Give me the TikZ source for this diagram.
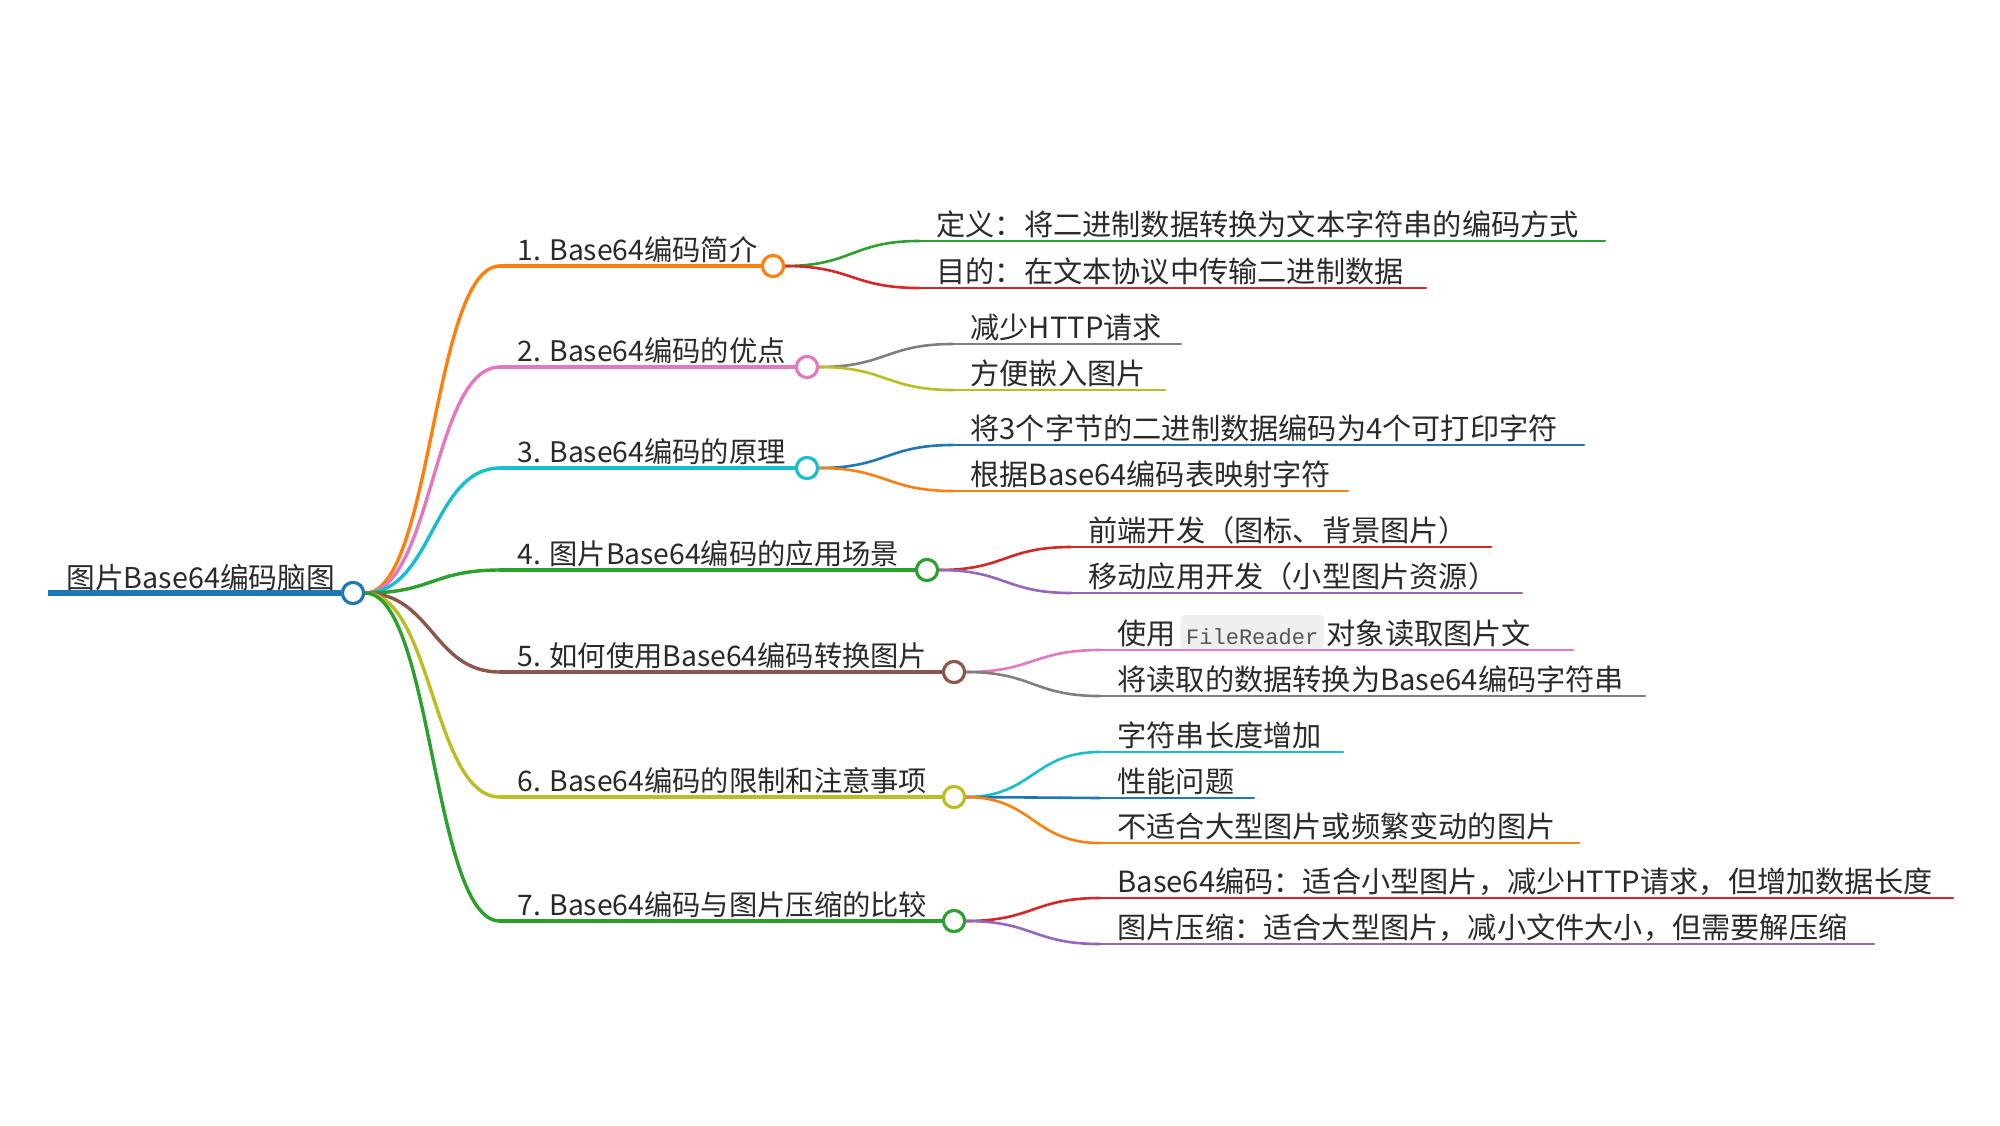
\documentclass[tikz,border=0pt]{standalone}
\usepackage{fontspec}
\setmainfont{Noto Sans CJK SC}
\newfontfamily\codefont{Liberation Mono}
\usetikzlibrary{calc}
\definecolor{mmorange}{HTML}{FF7F0E}
\definecolor{mmpink}{HTML}{E377C2}
\definecolor{mmcyan}{HTML}{17BECF}
\definecolor{mmgreen}{HTML}{2CA02C}
\definecolor{mmbrown}{HTML}{8C564B}
\definecolor{mmolive}{HTML}{BCBD22}
\definecolor{mmred}{HTML}{D62728}
\definecolor{mmpurple}{HTML}{9467BD}
\definecolor{mmgray}{HTML}{7F7F7F}
\definecolor{mmblue}{HTML}{1F77B4}
\definecolor{txtcol}{HTML}{2A2A2A}
\definecolor{codebg}{HTML}{EFEFEF}
\definecolor{codetxt}{HTML}{555555}
\tikzset{
  lzero/.style={line width=3pt},
  lone/.style={line width=1.7pt, line cap=round},
  ltwo/.style={line width=1.3pt, line cap=round},
  dot/.style={circle, draw, fill=white, line width=1.5pt, minimum size=10.5pt, inner sep=0pt},
  txt/.style={anchor=base west, inner sep=0pt, font=\fontsize{14.6pt}{16pt}\selectfont, text=txtcol},
  txtone/.style={txt, font=\fontsize{14.15pt}{16pt}\selectfont},
  txtroot/.style={txt, font=\fontsize{14.35pt}{16pt}\selectfont},
  codebox/.style={anchor=base west, fill=codebg, rounded corners=2pt, inner xsep=2.8pt, inner ysep=0pt,
    text height=14.5pt, text depth=2.5pt, font=\codefont\fontsize{11pt}{12pt}\selectfont, text=codetxt}
}
\newcommand\mmlink[3]{\draw[#1] let \p1=(#2), \p2=(#3) in (#2) .. controls ({(\x1+\x2)/2},\y1) and ({(\x1+\x2)/2},\y2) .. (#3);}
\begin{document}
\begin{tikzpicture}[x=0.5pt,y=-0.5pt]
\useasboundingbox (0,0) rectangle (2000,1125);
\fill[white] (0,0) rectangle (2000,1125);

% root
\coordinate (r0) at (48,593);
\node[dot, draw=mmblue] (root) at (353,593) {};
\draw[lzero, mmblue] (r0) -- (root.west);
\node[txtroot] (troot) at (66,588) {图片Base64编码脑图};

% level 1 anchors
\coordinate (s1) at (500,266);
\coordinate (s2) at (500,367);
\coordinate (s3) at (500,468);
\coordinate (s4) at (500,570);
\coordinate (s5) at (500,672);
\coordinate (s6) at (500,797);
\coordinate (s7) at (500,921);
\node[dot, draw=mmorange] (c1) at (773,266) {};
\node[dot, draw=mmpink] (c2) at (807,367) {};
\node[dot, draw=mmcyan] (c3) at (807,468) {};
\node[dot, draw=mmgreen] (c4) at (927,570) {};
\node[dot, draw=mmbrown] (c5) at (954,672) {};
\node[dot, draw=mmolive] (c6) at (954,797) {};
\node[dot, draw=mmgreen] (c7) at (954,921) {};

\mmlink{lone, mmorange}{root.east}{s1}
\mmlink{lone, mmpink}{root.east}{s2}
\mmlink{lone, mmcyan}{root.east}{s3}
\mmlink{lone, mmgreen}{root.east}{s4}
\mmlink{lone, mmbrown}{root.east}{s5}
\mmlink{lone, mmolive}{root.east}{s6}
\mmlink{lone, mmgreen}{root.east}{s7}
\draw[lone, mmorange] (s1) -- (c1.west);
\draw[lone, mmpink] (s2) -- (c2.west);
\draw[lone, mmcyan] (s3) -- (c3.west);
\draw[lone, mmgreen] (s4) -- (c4.west);
\draw[lone, mmbrown] (s5) -- (c5.west);
\draw[lone, mmolive] (s6) -- (c6.west);
\draw[lone, mmgreen] (s7) -- (c7.west);

% level 2 anchors: curve ends (e) and line ends (f)
\coordinate (e1a) at (919,241);  \coordinate (f1a) at (1605,241);
\coordinate (e1b) at (919,288);  \coordinate (f1b) at (1426,288);
\coordinate (e2a) at (953,344);  \coordinate (f2a) at (1181,344);
\coordinate (e2b) at (953,390);  \coordinate (f2b) at (1165,390);
\coordinate (e3a) at (953,445);  \coordinate (f3a) at (1584,445);
\coordinate (e3b) at (953,491);  \coordinate (f3b) at (1348,491);
\coordinate (e4a) at (1071,547); \coordinate (f4a) at (1491,547);
\coordinate (e4b) at (1071,593); \coordinate (f4b) at (1522,593);
\coordinate (e5a) at (1100,650); \coordinate (f5a) at (1573,650);
\coordinate (e5b) at (1100,696); \coordinate (f5b) at (1645,696);
\coordinate (e6a) at (1100,752); \coordinate (f6a) at (1343,752);
\coordinate (e6b) at (1100,798); \coordinate (f6b) at (1254,798);
\coordinate (e6c) at (1100,843); \coordinate (f6c) at (1579,843);
\coordinate (e7a) at (1100,898); \coordinate (f7a) at (1953,898);
\coordinate (e7b) at (1100,944); \coordinate (f7b) at (1874,944);

\mmlink{ltwo, mmgreen}{c1.east}{e1a}  \draw[ltwo, mmgreen] (e1a) -- (f1a);
\mmlink{ltwo, mmred}{c1.east}{e1b}    \draw[ltwo, mmred] (e1b) -- (f1b);
\mmlink{ltwo, mmgray}{c2.east}{e2a}   \draw[ltwo, mmgray] (e2a) -- (f2a);
\mmlink{ltwo, mmolive}{c2.east}{e2b}  \draw[ltwo, mmolive] (e2b) -- (f2b);
\mmlink{ltwo, mmblue}{c3.east}{e3a}   \draw[ltwo, mmblue] (e3a) -- (f3a);
\mmlink{ltwo, mmorange}{c3.east}{e3b} \draw[ltwo, mmorange] (e3b) -- (f3b);
\mmlink{ltwo, mmred}{c4.east}{e4a}    \draw[ltwo, mmred] (e4a) -- (f4a);
\mmlink{ltwo, mmpurple}{c4.east}{e4b} \draw[ltwo, mmpurple] (e4b) -- (f4b);
\mmlink{ltwo, mmpink}{c5.east}{e5a}   \draw[ltwo, mmpink] (e5a) -- (f5a);
\mmlink{ltwo, mmgray}{c5.east}{e5b}   \draw[ltwo, mmgray] (e5b) -- (f5b);
\mmlink{ltwo, mmcyan}{c6.east}{e6a}   \draw[ltwo, mmcyan] (e6a) -- (f6a);
\mmlink{ltwo, mmblue}{c6.east}{e6b}   \draw[ltwo, mmblue] (e6b) -- (f6b);
\mmlink{ltwo, mmorange}{c6.east}{e6c} \draw[ltwo, mmorange] (e6c) -- (f6c);
\mmlink{ltwo, mmred}{c7.east}{e7a}    \draw[ltwo, mmred] (e7a) -- (f7a);
\mmlink{ltwo, mmpurple}{c7.east}{e7b} \draw[ltwo, mmpurple] (e7b) -- (f7b);

% redraw circles on top
\node[dot, draw=mmblue] at (root) {};
\node[dot, draw=mmorange] at (c1) {};
\node[dot, draw=mmpink] at (c2) {};
\node[dot, draw=mmcyan] at (c3) {};
\node[dot, draw=mmgreen] at (c4) {};
\node[dot, draw=mmbrown] at (c5) {};
\node[dot, draw=mmolive] at (c6) {};
\node[dot, draw=mmgreen] at (c7) {};

% level 1 texts
\node[txtone] (t1) at (517,260) {1. Base64编码简介};
\node[txtone] (t2) at (517,361) {2. Base64编码的优点};
\node[txtone] (t3) at (517,462) {3. Base64编码的原理};
\node[txtone] (t4) at (517,564) {4. 图片Base64编码的应用场景};
\node[txtone] (t5) at (517,666) {5. 如何使用Base64编码转换图片};
\node[txtone] (t6) at (517,791) {6. Base64编码的限制和注意事项};
\node[txtone] (t7) at (517,915) {7. Base64编码与图片压缩的比较};

% level 2 texts
\node[txt] (t1a) at (936,235) {定义：将二进制数据转换为文本字符串的编码方式};
\node[txt] (t1b) at (936,282) {目的：在文本协议中传输二进制数据};
\node[txt] (t2a) at (970,338) {减少HTTP请求};
\node[txt] (t2b) at (970,384) {方便嵌入图片};
\node[txt] (t3a) at (970,439) {将3个字节的二进制数据编码为4个可打印字符};
\node[txt] (t3b) at (970,485) {根据Base64编码表映射字符};
\node[txt] (t4a) at (1088,541) {前端开发（图标、背景图片）};
\node[txt] (t4b) at (1088,587) {移动应用开发（小型图片资源）};
\node[txt] (t5a) at (1117,644) {使用};
\node[codebox] (t5acode) at ([xshift=2pt]t5a.base east) {FileReader};
\node[txt] (t5atail) at ([xshift=1pt]t5acode.base east) {对象读取图片文};
\node[txt] (t5b) at (1117,690) {将读取的数据转换为Base64编码字符串};
\node[txt] (t6a) at (1117,746) {字符串长度增加};
\node[txt] (t6b) at (1117,792) {性能问题};
\node[txt] (t6c) at (1117,837) {不适合大型图片或频繁变动的图片};
\node[txt] (t7a) at (1117,892) {Base64编码：适合小型图片，减少HTTP请求，但增加数据长度};
\node[txt] (t7b) at (1117,938) {图片压缩：适合大型图片，减小文件大小，但需要解压缩};
\end{tikzpicture}
\end{document}
